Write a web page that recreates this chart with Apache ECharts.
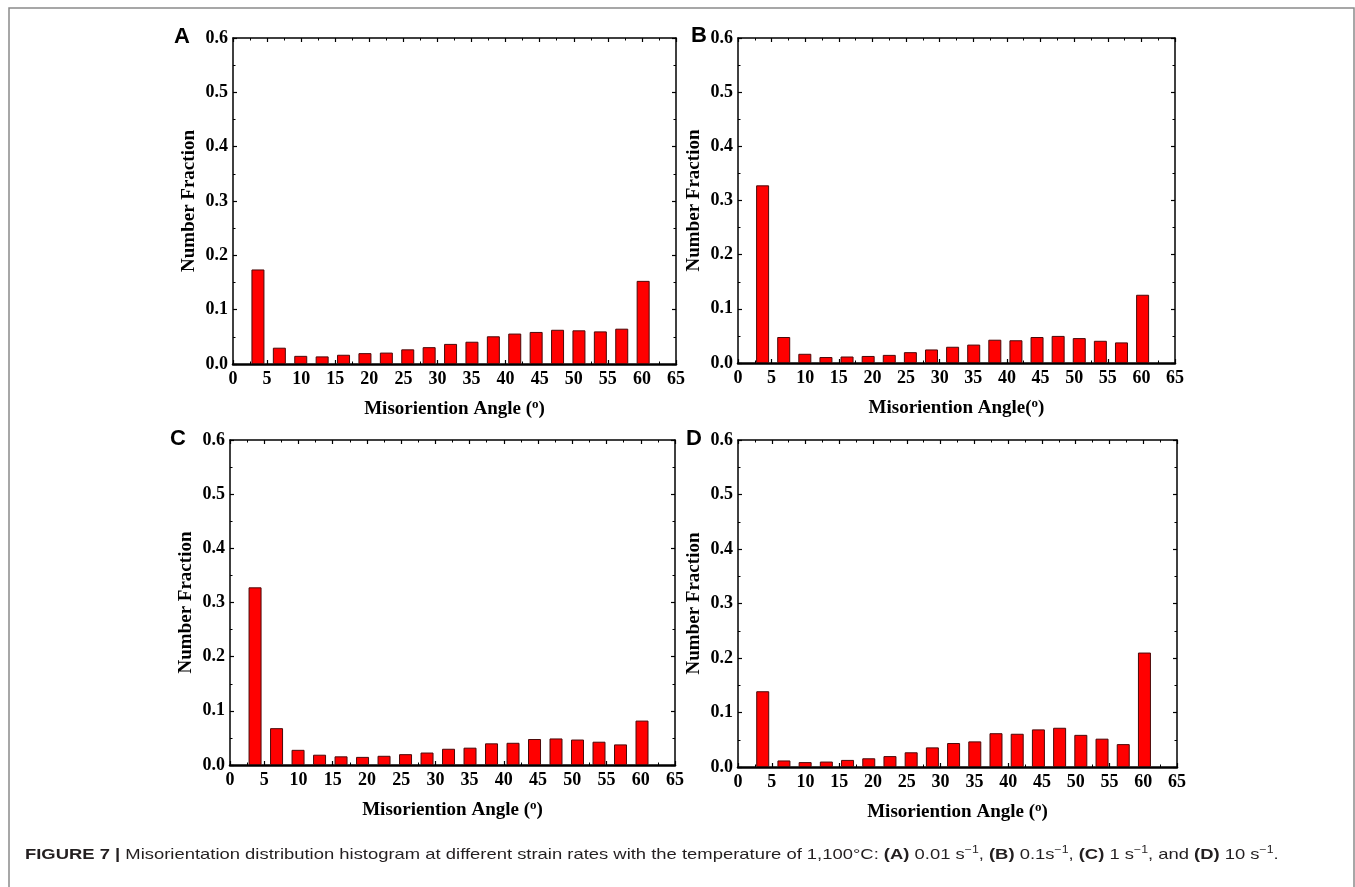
<!DOCTYPE html>
<html>
<head>
<meta charset="utf-8">
<script src="https://cdn.jsdelivr.net/npm/echarts@6/dist/echarts.min.js"></script>
<style>
  html, body { margin: 0; padding: 0; background: #fff; }
  #chart { width: 1355px; height: 887px; }
</style>
</head>
<body>
<div id="chart"></div>
<script>
// bin centres (degrees)
const angles = [3.66, 6.80, 9.94, 13.08, 16.22, 19.36, 22.50, 25.64, 28.78, 31.92,
  35.06, 38.20, 41.34, 44.48, 47.62, 50.76, 53.90, 57.04, 60.18];

const fracA = [0.174, 0.030, 0.015, 0.014, 0.017, 0.020, 0.021, 0.027, 0.031, 0.037,
  0.041, 0.051, 0.056, 0.059, 0.063, 0.062, 0.060, 0.065, 0.153];
const fracB = [0.328, 0.048, 0.017, 0.011, 0.012, 0.013, 0.015, 0.020, 0.025, 0.030,
  0.034, 0.043, 0.042, 0.048, 0.050, 0.046, 0.041, 0.038, 0.126];
const fracC = [0.328, 0.068, 0.028, 0.019, 0.016, 0.015, 0.017, 0.020, 0.023, 0.030,
  0.032, 0.040, 0.041, 0.048, 0.049, 0.047, 0.043, 0.038, 0.082];
const fracD = [0.139, 0.012, 0.009, 0.010, 0.013, 0.016, 0.020, 0.027, 0.036, 0.044,
  0.047, 0.062, 0.061, 0.069, 0.072, 0.059, 0.052, 0.042, 0.210];

const panelLetters = ['A', 'B', 'C', 'D'];
const xNames = ['Misoriention Angle ({sup|o})', 'Misoriention Angle({sup|o})',
  'Misoriention Angle ({sup|o})', 'Misoriention Angle ({sup|o})'];
const yName = 'Number Fraction';

const panels = [fracA, fracB, fracC, fracD];

const grids = [
  { left: 233, top: 38, width: 443, height: 326 },
  { left: 738, top: 38, width: 437, height: 325 },
  { left: 230, top: 440, width: 445, height: 325 },
  { left: 738, top: 440, width: 439, height: 327 }
];
const letterPos = [[182, 37], [699, 36], [178, 439], [694, 439]];

const serif = '"Liberation Serif", "Times New Roman", serif';
const sans = '"Liberation Sans", Arial, Helvetica, sans-serif';

const tickLabel = { fontFamily: serif, fontWeight: 'bold', fontSize: 18, color: '#000' };

let xAxes = [], yAxes = [], series = [], graphics = [];

grids.forEach((g, i) => {
  // bottom + top x axes
  xAxes.push({
    type: 'value', gridIndex: i, min: 0, max: 65, interval: 5, position: 'bottom',
    name: xNames[i], nameLocation: 'middle', nameGap: 34,
    nameTextStyle: {
      fontFamily: serif, fontWeight: 'bold', fontSize: 19, color: '#000', lineHeight: 22,
      rich: { sup: { fontFamily: serif, fontWeight: 'bold', fontSize: 13, verticalAlign: 'top', lineHeight: 12, color: '#000' } }
    },
    axisLine: { show: true, onZero: false, lineStyle: { color: '#000', width: 2.5 } },
    axisTick: { show: true, inside: true, length: 4, lineStyle: { color: '#000', width: 1.2 } },
    minorTick: { show: true, splitNumber: 2, length: 2.5, lineStyle: { color: '#000', width: 1 } },
    axisLabel: Object.assign({ margin: 6 }, tickLabel),
    splitLine: { show: false }
  });
  xAxes.push({
    type: 'value', gridIndex: i, min: 0, max: 65, interval: 5, position: 'top',
    axisLine: { show: true, onZero: false, lineStyle: { color: '#000', width: 1.5 } },
    axisTick: { show: true, inside: true, length: 4, lineStyle: { color: '#000', width: 1.2 } },
    minorTick: { show: true, splitNumber: 2, length: 2.5, lineStyle: { color: '#000', width: 1 } },
    axisLabel: { show: false },
    splitLine: { show: false }
  });
  // left + right y axes
  yAxes.push({
    type: 'value', gridIndex: i, min: 0, max: 0.6, interval: 0.1, position: 'left',
    name: yName, nameLocation: 'middle', nameGap: 34, nameRotate: 90,
    nameTextStyle: { fontFamily: serif, fontWeight: 'bold', fontSize: 19, color: '#000' },
    axisLine: { show: true, onZero: false, lineStyle: { color: '#000', width: 1.5 } },
    axisTick: { show: true, inside: true, length: 4, lineStyle: { color: '#000', width: 1.2 } },
    minorTick: { show: true, splitNumber: 2, length: 2.5, lineStyle: { color: '#000', width: 1 } },
    axisLabel: Object.assign({ margin: 5, formatter: v => v.toFixed(1) }, tickLabel),
    splitLine: { show: false }
  });
  yAxes.push({
    type: 'value', gridIndex: i, min: 0, max: 0.6, interval: 0.1, position: 'right',
    axisLine: { show: true, onZero: false, lineStyle: { color: '#000', width: 1.5 } },
    axisTick: { show: true, inside: true, length: 4, lineStyle: { color: '#000', width: 1.2 } },
    minorTick: { show: true, splitNumber: 2, length: 2.5, lineStyle: { color: '#000', width: 1 } },
    axisLabel: { show: false },
    splitLine: { show: false }
  });

  series.push({
    type: 'bar',
    xAxisIndex: i * 2,
    yAxisIndex: i * 2,
    barWidth: 13,
    data: angles.map((a, k) => [a, panels[i][k]]),
    itemStyle: { color: '#ff0000', borderColor: '#4a0a0a', borderWidth: 1 },
    silent: true
  });

  graphics.push({
    type: 'text',
    style: {
      text: panelLetters[i], x: letterPos[i][0], y: letterPos[i][1],
      font: 'bold 22px ' + sans, fill: '#000', align: 'center', verticalAlign: 'middle'
    }
  });
});

// outer figure frame
graphics.push({
  type: 'polyline',
  shape: { points: [[9, 900], [9, 8], [1354, 8], [1354, 900]] },
  style: { stroke: '#8a8a8a', lineWidth: 1.5, fill: null }
});

// caption (reference text is a little wider than the font, so stretch it)
graphics.push({
  type: 'text',
  x: 25, y: 855, scaleX: 1.228,
  style: {
    x: 0, y: 0,
    text: '{b|FIGURE 7 |} Misorientation distribution histogram at different strain rates with the temperature of 1,100°C: ' +
      '{b|(A)} 0.01 s{sup|−1}, {b|(B)} 0.1s{sup|−1}, {b|(C)} 1 s{sup|−1}, and {b|(D)} 10 s{sup|−1}.',
    fontFamily: sans, fontSize: 15, fill: '#231f20', lineHeight: 20,
    verticalAlign: 'middle',
    rich: {
      b: { fontFamily: sans, fontSize: 15, fontWeight: 'bold', fill: '#231f20', lineHeight: 20 },
      sup: { fontFamily: sans, fontSize: 10, fill: '#231f20', verticalAlign: 'top', lineHeight: 10 }
    }
  }
});

const chart = echarts.init(document.getElementById('chart'));
chart.setOption({
  animation: false,
  backgroundColor: '#fff',
  grid: grids,
  xAxis: xAxes,
  yAxis: yAxes,
  series: series,
  graphic: graphics
});
</script>
</body>
</html>
